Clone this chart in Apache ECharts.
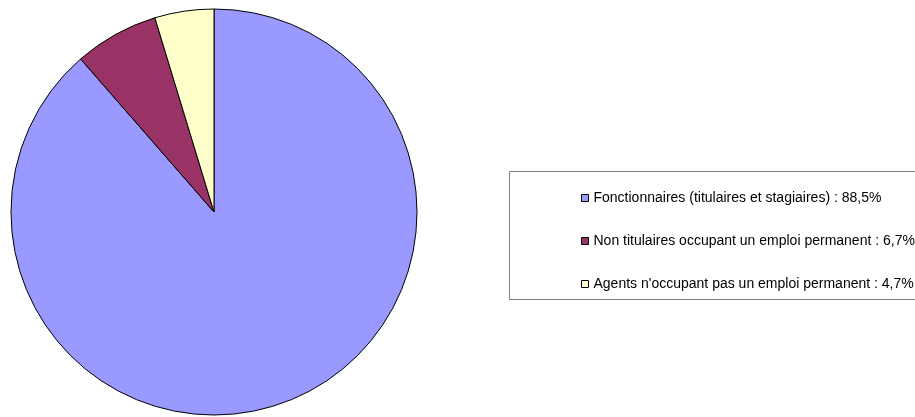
<!DOCTYPE html>
<html>
<head>
<meta charset="utf-8">
<script src="https://cdn.jsdelivr.net/npm/echarts@6/dist/echarts.min.js"></script>
<style>
  html, body { margin: 0; padding: 0; background: #ffffff; }
  #chart { width: 915px; height: 417px; }
</style>
</head>
<body>
<div id="chart"></div>
<script>
const categories = [
  "Fonctionnaires (titulaires et stagiaires)",
  "Non titulaires occupant un emploi permanent",
  "Agents n'occupant pas un emploi permanent"
];
const values = [88.5, 6.7, 4.7];
const colors = ["#9999FF", "#993366", "#FFFFCC"];

const labels = categories.map((c, i) => c + " : " + String(values[i]).replace(".", ",") + "%");
const data = labels.map((name, i) => ({
  name: name,
  value: values[i],
  itemStyle: { color: colors[i] }
}));

const chart = echarts.init(document.getElementById("chart"), null, { renderer: "canvas" });
chart.setOption({
  animation: false,
  backgroundColor: "#ffffff",
  graphic: [{
    type: "rect",
    shape: { x: 509.5, y: 171.5, width: 420, height: 128 },
    style: { fill: "#ffffff", stroke: "#808080", lineWidth: 1 },
    z: 0
  }],
  legend: {
    orient: "vertical",
    left: 576,
    top: 185,
    itemWidth: 7,
    itemHeight: 7,
    itemGap: 27,
    icon: "rect",
    selectedMode: false,
    itemStyle: { borderColor: "#000000", borderWidth: 1 },
    textStyle: {
      fontFamily: "Liberation Sans, Arial, sans-serif",
      fontSize: 14,
      color: "#000000",
      lineHeight: 16,
      padding: [0, 0, 0, 0]
    },
    data: labels,
    z: 5
  },
  series: [{
    type: "pie",
    center: [214, 212],
    radius: 203,
    startAngle: 90,
    clockwise: true,
    label: { show: false },
    labelLine: { show: false },
    emphasis: { disabled: true },
    itemStyle: { borderColor: "#000000", borderWidth: 1 },
    data: data
  }]
});
</script>
</body>
</html>
